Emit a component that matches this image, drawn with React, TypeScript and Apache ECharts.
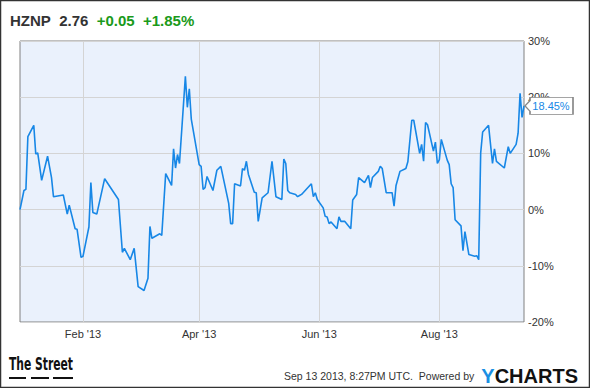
import React, { useEffect, useRef } from "react";
import * as echarts from "echarts";

const dates: string[] = [
  "2012-12-31", "2013-01-02", "2013-01-03", "2013-01-04", "2013-01-07", "2013-01-08", "2013-01-09", "2013-01-11",
  "2013-01-14", "2013-01-16", "2013-01-17", "2013-01-22", "2013-01-24", "2013-01-25", "2013-01-28", "2013-01-29",
  "2013-01-31", "2013-02-01", "2013-02-04", "2013-02-05", "2013-02-06", "2013-02-08", "2013-02-12", "2013-02-19",
  "2013-02-21", "2013-02-22", "2013-02-25", "2013-02-27", "2013-03-01", "2013-03-04", "2013-03-06", "2013-03-07",
  "2013-03-08", "2013-03-12", "2013-03-13", "2013-03-15", "2013-03-18", "2013-03-19", "2013-03-20", "2013-03-21",
  "2013-03-22", "2013-03-25", "2013-03-26", "2013-03-27", "2013-03-28", "2013-04-01", "2013-04-02", "2013-04-03",
  "2013-04-04", "2013-04-05", "2013-04-08", "2013-04-10", "2013-04-12", "2013-04-16", "2013-04-17", "2013-04-18",
  "2013-04-19", "2013-04-22", "2013-04-23", "2013-04-24", "2013-04-25", "2013-04-26", "2013-04-29", "2013-04-30",
  "2013-05-01", "2013-05-03", "2013-05-06", "2013-05-08", "2013-05-10", "2013-05-13", "2013-05-14", "2013-05-15",
  "2013-05-16", "2013-05-17", "2013-05-20", "2013-05-21", "2013-05-22", "2013-05-23", "2013-05-28", "2013-05-29",
  "2013-05-30", "2013-05-31", "2013-06-03", "2013-06-04", "2013-06-05", "2013-06-06", "2013-06-07", "2013-06-10",
  "2013-06-11", "2013-06-12", "2013-06-14", "2013-06-17", "2013-06-18", "2013-06-20", "2013-06-21", "2013-06-24",
  "2013-06-26", "2013-06-27", "2013-06-28", "2013-07-01", "2013-07-02", "2013-07-03", "2013-07-05", "2013-07-08",
  "2013-07-09", "2013-07-10", "2013-07-12", "2013-07-15", "2013-07-16", "2013-07-18", "2013-07-19", "2013-07-22",
  "2013-07-23", "2013-07-24", "2013-07-25", "2013-07-26", "2013-07-29", "2013-07-30", "2013-07-31", "2013-08-01",
  "2013-08-02", "2013-08-05", "2013-08-06", "2013-08-07", "2013-08-08", "2013-08-09", "2013-08-12", "2013-08-13",
  "2013-08-14", "2013-08-16", "2013-08-19", "2013-08-20", "2013-08-21", "2013-08-22", "2013-08-23", "2013-08-26",
  "2013-08-28", "2013-08-29", "2013-08-30", "2013-09-03", "2013-09-05", "2013-09-06", "2013-09-09", "2013-09-10",
  "2013-09-11", "2013-09-12", "2013-09-13",
];

const changePct: number[] = [
  0, 3.4, 3.6, 13.0, 15.0, 9.9, 10.1, 5.2,
  9.5, 5.7, 2.3, 2.6, -0.8, 0.8, -3.4, -3.5,
  -8.5, -8.3, -3.1, 4.8, -0.5, -0.8, 5.5, 1.8,
  -7.6, -6.9, -8.9, -6.9, -13.7, -14.4, -12.2, -3.0,
  -5.1, -4.3, -4.6, 6.4, 4.3, 10.8, 7.4, 9.8,
  8.2, 23.7, 18.2, 21.5, 16.1, 8.0, 7.7, 3.6,
  3.9, 5.9, 3.4, 7.0, 7.7, 1.1, -2.5, -2.5,
  4.6, 4.2, 7.3, 7.0, 8.6, 6.3, 3.1, 3.0,
  -2.1, 2.1, 3.0, 8.6, 2.3, 1.8, 9.0, 8.2,
  3.4, 3.0, 2.7, 2.3, 2.5, 2.7, 4.6, 2.3,
  3.0, 1.8, 0.3, -1.2, -1.3, -2.5, -2.2, -3.4,
  -1.3, -2.1, -2.1, -3.4, 1.7, 2.7, 5.7, 4.8,
  6.1, 3.9, 5.7, 6.8, 7.7, 7.3, 3.0, 3.0,
  0.6, 4.3, 6.8, 7.3, 8.5, 15.9, 15.9, 10.0,
  11.6, 8.6, 15.5, 15.1, 10.4, 12.0, 8.2, 8.9,
  12.5, 8.8, 8.0, 4.6, 3.9, -1.8, -2.9, -7.3,
  -3.9, -8.0, -8.3, -8.2, -8.9, 10.1, 13.8, 15.0,
  8.2, 10.8, 8.6, 7.4, 11.2, 10.0, 11.6, 13.6,
  20.7, 16.4, 18.45,
];

const xTickDates: string[] = ["2013-02-01", "2013-04-01", "2013-06-01", "2013-08-01"];
const monthNames: string[] = ["Jan", "Feb", "Mar", "Apr", "May", "Jun", "Jul", "Aug", "Sep", "Oct", "Nov", "Dec"];
const xMin = "2012-12-31";
const xMax = "2013-09-13";
const yMin = -20;
const yMax = 30;
const yStep = 10;

const ticker = "HZNP";
const price = "2.76";
const change = "+0.05";
const changePctText = "+1.85%";
const footerText = "Sep 13 2013, 8:27PM UTC.  Powered by";
const brandLeft = "The Street";

const FONT = "Arial, 'Liberation Sans', Helvetica, sans-serif";
const LOGO_FONT = "bold 18px 'DejaVu Sans Condensed', 'DejaVu Sans', sans-serif";
const LINE = "#1787e6";

function toTs(s: string): number {
  const [y, m, d] = s.split("-").map(Number);
  return new Date(y, m - 1, d).getTime();
}

export default function App() {
  const ref = useRef<HTMLDivElement>(null);
  useEffect(() => {
    if (!ref.current) return;
    const chart = echarts.init(ref.current, undefined, { renderer: "svg" });
    const data = dates.map((d, i) => [toTs(d), changePct[i]]);
    const last = data[data.length - 1];
    const ticks = xTickDates.map(toTs);

    const probe = new (echarts as any).graphic.Text({ style: { text: brandLeft, font: LOGO_FONT } });
    const logoW = probe.getBoundingRect().width || 96;
    const logoScale = 64 / logoW;

    chart.setOption({
      animation: false,
      backgroundColor: "#ffffff",
      title: {
        text: `{d|${ticker}}  {d|${price}}  {g|${change}}  {g|${changePctText}}`,
        left: 10,
        top: 13,
        padding: 0,
        textStyle: {
          fontFamily: FONT,
          fontSize: 15,
          fontWeight: "bold",
          rich: {
            d: { color: "#333333", fontSize: 15, fontWeight: "bold", fontFamily: FONT },
            g: { color: "#1a9a1a", fontSize: 15, fontWeight: "bold", fontFamily: FONT },
          },
        },
      },
      grid: {
        left: 20,
        right: 66,
        top: 41,
        bottom: 66,
        show: true,
        backgroundColor: "#eaf1fc",
        borderColor: "#808080",
        borderWidth: 1,
        containLabel: false,
      },
      xAxis: {
        type: "value",
        min: toTs(xMin),
        max: toTs(xMax),
        axisLine: { show: false },
        axisTick: { show: false, customValues: ticks },
        splitLine: { show: true, lineStyle: { color: "#d4d4d4", width: 1 } },
        axisLabel: {
          customValues: ticks,
          margin: 6,
          color: "#333333",
          fontSize: 11,
          fontFamily: FONT,
          formatter: (val: number) => {
            const d = new Date(val);
            return `${monthNames[d.getMonth()]} '${String(d.getFullYear()).slice(2)}`;
          },
        },
      },
      yAxis: {
        type: "value",
        position: "right",
        min: yMin,
        max: yMax,
        interval: yStep,
        axisLine: { show: false },
        axisTick: { show: false },
        splitLine: { show: true, lineStyle: { color: "#d4d4d4", width: 1 } },
        axisLabel: {
          margin: 4,
          color: "#333333",
          fontSize: 11,
          fontFamily: FONT,
          formatter: "{value}%",
        },
      },
      series: [
        {
          type: "line",
          data,
          showSymbol: false,
          symbol: "none",
          lineStyle: { color: LINE, width: 1.6 },
          markPoint: {
            silent: true,
            symbol: "path://M0,8L5,3L5,0L48,0L48,16L5,16L5,13Z",
            symbolSize: [48, 17],
            symbolOffset: [25, 0],
            itemStyle: { color: "#ffffff", borderColor: "#888888", borderWidth: 1 },
            label: {
              show: true,
              position: "inside",
              offset: [2, 0],
              color: LINE,
              fontSize: 11,
              fontFamily: FONT,
              formatter: (p: any) => `${Number(p.value).toFixed(2)}%`,
            },
            data: [{ coord: last, value: last[1] }],
          },
        },
      ],
      graphic: [
        {
          type: "rect",
          shape: { x: 0.5, y: 0.5, width: 589, height: 387 },
          style: { fill: "none", stroke: "#333333", lineWidth: 1.5 },
          silent: true,
        },
        {
          type: "text",
          x: 9,
          y: 364,
          scaleX: logoScale,
          style: {
            text: brandLeft,
            x: 0,
            y: 0,
            fill: "#111111",
            font: LOGO_FONT,
            verticalAlign: "middle",
          },
        },
        { type: "rect", shape: { x: 9, y: 377, width: 17, height: 2 }, style: { fill: "#111111" } },
        { type: "rect", shape: { x: 31, y: 377, width: 18, height: 2 }, style: { fill: "#111111" } },
        { type: "rect", shape: { x: 53, y: 377, width: 20, height: 2 }, style: { fill: "#111111" } },
        {
          type: "text",
          x: 284,
          y: 376,
          style: {
            text: footerText,
            fill: "#333333",
            font: `10.5px ${FONT}`,
            verticalAlign: "middle",
          },
        },
        {
          type: "text",
          x: 578,
          y: 376,
          style: {
            text: "{y|Y}{c|CHARTS}",
            align: "right",
            verticalAlign: "middle",
            rich: {
              y: { fill: "#1a8fe3", font: `bold 20px ${FONT}` },
              c: { fill: "#111111", font: `bold 20px ${FONT}` },
            },
          },
        },
      ],
    });
    return () => chart.dispose();
  }, []);
  return <div ref={ref} style={{ position: "absolute", left: 0, top: 0, width: 590, height: 388 }} />;
}
